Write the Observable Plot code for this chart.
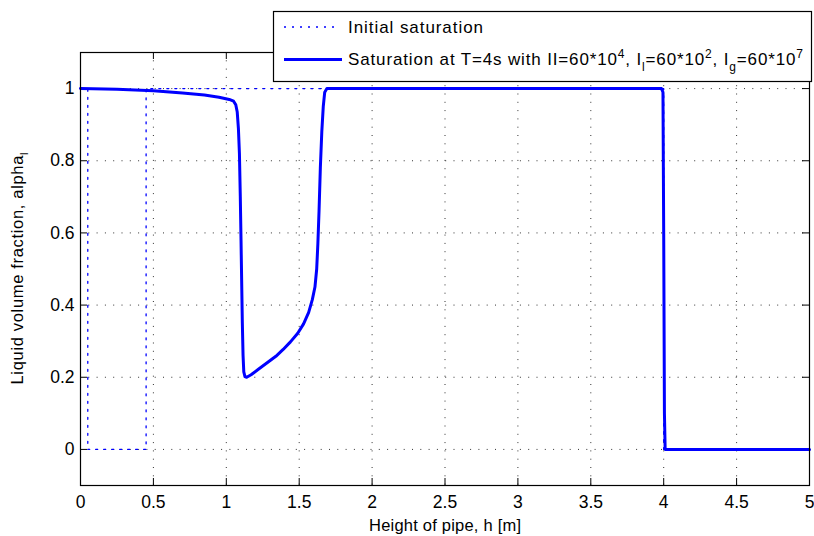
<!DOCTYPE html>
<html>
<head>
<meta charset="utf-8">
<script src="https://cdn.jsdelivr.net/npm/d3@7"></script>
<script src="https://cdn.jsdelivr.net/npm/@observablehq/plot@0.6"></script>
<style>
  html, body { margin: 0; padding: 0; background: #fff; }
  #chart svg { display: block; }
</style>
</head>
<body>
<div id="chart"></div>
<script>
// Initial saturation (dotted)
const initH = [0, 0.05, 0.05, 0.45, 0.45, 4.0, 4.0, 5.0];
const initA = [1, 1, 0, 0, 1, 1, 0, 0];

// Saturation at T=4s (solid)
const solH = [0, 0.25, 0.5, 0.7, 0.85, 0.95, 1.02, 1.05, 1.065, 1.075, 1.083, 1.09, 1.096, 1.101, 1.106, 1.110, 1.115, 1.12, 1.128, 1.14, 1.17, 1.22, 1.28, 1.34, 1.39, 1.44, 1.49, 1.53, 1.565, 1.59, 1.608, 1.62, 1.628, 1.636, 1.645, 1.655, 1.665, 1.675, 1.69, 3.985, 3.995, 4.0, 4.005, 4.01, 5.0];
const solA = [1.0, 0.998, 0.994, 0.988, 0.982, 0.976, 0.970, 0.965, 0.955, 0.935, 0.89, 0.82, 0.70, 0.58, 0.45, 0.35, 0.26, 0.215, 0.202, 0.200, 0.207, 0.222, 0.240, 0.258, 0.277, 0.298, 0.322, 0.348, 0.380, 0.415, 0.450, 0.50, 0.57, 0.66, 0.78, 0.88, 0.95, 0.99, 1.0, 1.0, 0.99, 0.6, 0.1, 0.0, 0.0];

const xTicks = [0, 0.5, 1, 1.5, 2, 2.5, 3, 3.5, 4, 4.5, 5];
const xTickLabels = ["0", "0.5", "1", "1.5", "2", "2.5", "3", "3.5", "4", "4.5", "5"];
const yTicks = [0, 0.2, 0.4, 0.6, 0.8, 1];
const yTickLabels = ["0", "0.2", "0.4", "0.6", "0.8", "1"];

const xLabel = "Height of pipe, h [m]";
const yLabelMain = "Liquid volume fraction, alpha";
const yLabelSub = "l";
const legend1 = "Initial saturation";
const legend2Parts = [
  ["Saturation at T=4s with II=60*10", 0], ["4", -1], [", I", 0], ["l", 1], ["=60*10", 0], ["2", -1],
  [", I", 0], ["g", 1], ["=60*10", 0], ["7", -1]
];

const initData = initH.map((h, i) => ({h, a: initA[i]}));
const solData = solH.map((h, i) => ({h, a: solA[i]}));

const W = 814, H = 536;
const mT = 52, mR = 5, mB = 51, mL = 80;
const innerW = W - mL - mR, innerH = H - mT - mB;
const FONT = "Liberation Sans, Arial, Helvetica, sans-serif";
const FS = 16.5;
const TFS = 17.5;
const tickLen = 7;

const chart = Plot.plot({
  width: W,
  height: H,
  marginTop: mT, marginRight: mR, marginBottom: mB, marginLeft: mL,
  style: {fontFamily: FONT, fontSize: FS + "px", color: "#000", background: "#fff"},
  x: {domain: [0, 5]},
  y: {domain: [-0.1, 1.1]},
  marks: [
    Plot.gridX(xTicks, {stroke: "#333", strokeOpacity: 1, strokeWidth: 1, strokeDasharray: "1,7.3"}),
    Plot.gridY(yTicks, {stroke: "#333", strokeOpacity: 1, strokeWidth: 1, strokeDasharray: "1,7.3"}),
    // inner ticks
    Plot.tickX(xTicks, {x: d => d, stroke: "#000", insetTop: innerH - tickLen}),
    Plot.tickX(xTicks, {x: d => d, stroke: "#000", insetBottom: innerH - tickLen}),
    Plot.tickY(yTicks, {y: d => d, stroke: "#000", insetRight: innerW - tickLen}),
    Plot.tickY(yTicks, {y: d => d, stroke: "#000", insetLeft: innerW - tickLen}),
    Plot.axisX(xTicks, {tickSize: 0, tickPadding: 10, tickFormat: (d, i) => xTickLabels[i], label: null, fontSize: TFS}),
    Plot.axisY(yTicks, {tickSize: 0, tickPadding: 6, tickFormat: (d, i) => yTickLabels[i], label: null, fontSize: TFS}),
    Plot.line(initData, {x: "h", y: "a", stroke: "#0000ff", strokeWidth: 1.3, strokeDasharray: "2,6"}),
    Plot.line(solData, {x: "h", y: "a", stroke: "#0000ff", strokeWidth: 3, strokeLinejoin: "round"}),
    Plot.text([xLabel], {frameAnchor: "bottom", dy: 40, lineAnchor: "middle", fontSize: FS, fill: "#000"}),
    Plot.frame({stroke: "#000", strokeWidth: 1.2})
  ]
});

document.getElementById("chart").appendChild(chart);

const svg = d3.select(chart);
// x label width as in reference
svg.selectAll("g[aria-label='text'] text")
  .attr("textLength", 152).attr("lengthAdjust", "spacing");

// Y label with subscript
const yl = svg.append("text")
  .attr("transform", `translate(23,${mT + innerH / 2}) rotate(-90)`)
  .attr("text-anchor", "middle")
  .attr("font-family", FONT)
  .attr("font-size", FS)
  .attr("textLength", 232).attr("lengthAdjust", "spacing")
  .attr("fill", "#000");
yl.append("tspan").text(yLabelMain);
yl.append("tspan").attr("font-size", 11).attr("dy", 5).text(yLabelSub);

// Legend
const lg = svg.append("g").attr("font-family", FONT).attr("font-size", FS)
  .attr("fill", "#000").attr("text-anchor", "start");
lg.append("rect").attr("x", 273.5).attr("y", 11.5).attr("width", 538).attr("height", 70)
  .attr("fill", "#fff").attr("stroke", "#000").attr("stroke-width", 1.2);
lg.append("line").attr("x1", 284).attr("x2", 338).attr("y1", 27).attr("y2", 27)
  .attr("stroke", "#0000ff").attr("stroke-width", 1.3).attr("stroke-dasharray", "2,6");
lg.append("line").attr("x1", 284).attr("x2", 342).attr("y1", 59.5).attr("y2", 59.5)
  .attr("stroke", "#0000ff").attr("stroke-width", 3);
lg.append("text").attr("x", 348).attr("y", 33).attr("text-anchor", "start")
  .attr("font-size", 17)
  .attr("textLength", 135).attr("lengthAdjust", "spacing").text(legend1);

const t2 = lg.append("text").attr("x", 348).attr("y", 65).attr("text-anchor", "start")
  .attr("font-size", 17)
  .attr("textLength", 455).attr("lengthAdjust", "spacing");
let shift = 0;
for (const [s, k] of legend2Parts) {
  const target = k === -1 ? -7 : k === 1 ? 6 : 0;
  const sp = t2.append("tspan").attr("dy", target - shift).text(s);
  if (k !== 0) sp.attr("font-size", 12);
  shift = target;
}
</script>
</body>
</html>
